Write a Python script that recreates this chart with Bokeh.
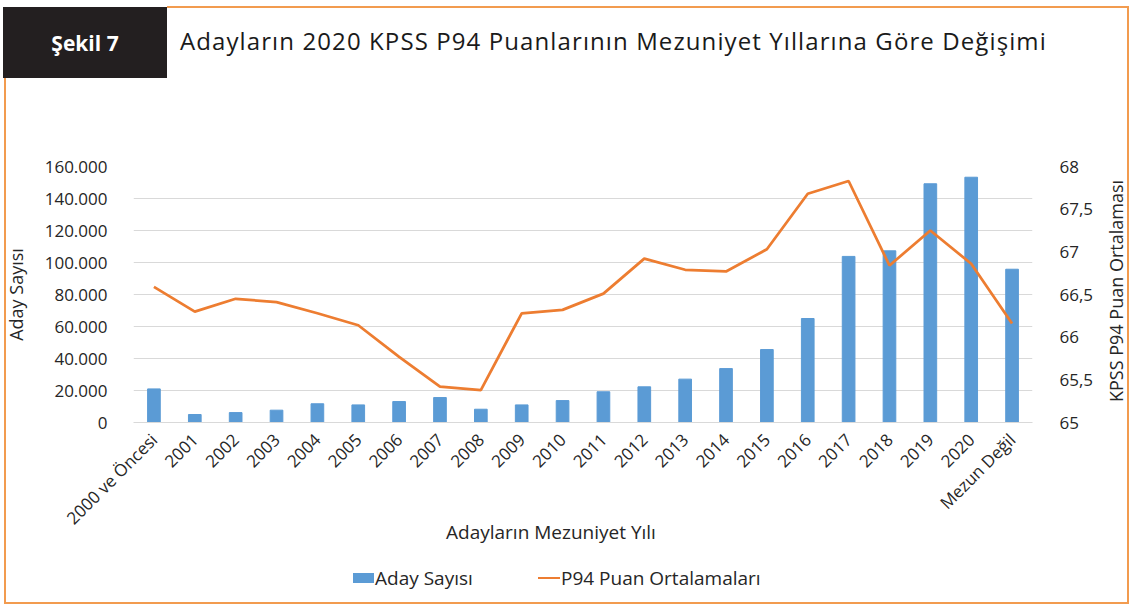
import math
from bokeh.plotting import figure
from bokeh.layouts import column
from bokeh.models import (FactorRange, Range1d, LinearAxis, FixedTicker, Div,
                          ColumnDataSource)
from bokeh.embed import file_html
from bokeh.resources import INLINE

# ---------------- data ----------------
categories = ["2000 ve Öncesi", "2001", "2002", "2003", "2004", "2005", "2006",
              "2007", "2008", "2009", "2010", "2011", "2012", "2013", "2014",
              "2015", "2016", "2017", "2018", "2019", "2020", "Mezun Değil"]
aday_sayisi = [21000, 5000, 6200, 7700, 11700, 11000, 13100, 15600, 8300, 11000,
               13700, 19200, 22300, 27100, 33700, 45600, 65000, 103800, 107300,
               149200, 153300, 95800]
p94_ortalama = [66.59, 66.30, 66.45, 66.41, 66.28, 66.14, 65.77, 65.42, 65.38,
                66.28, 66.32, 66.51, 66.92, 66.79, 66.77, 67.03, 67.68, 67.83,
                66.84, 67.25, 66.86, 66.16]
left_ticks = [0, 20000, 40000, 60000, 80000, 100000, 120000, 140000, 160000]
left_tick_labels = ["0", "20.000", "40.000", "60.000", "80.000", "100.000",
                    "120.000", "140.000", "160.000"]
right_ticks = [65, 65.5, 66, 66.5, 67, 67.5, 68]
right_tick_labels = ["65", "65,5", "66", "66,5", "67", "67,5", "68"]

title_box_text = "Şekil 7"
title_text = "Adayların 2020 KPSS P94 Puanlarının Mezuniyet Yıllarına Göre Değişimi"
x_title = "Adayların Mezuniyet Yılı"
left_title = "Aday Sayısı"
right_title = "KPSS P94 Puan Ortalaması"
legend_labels = ["Aday Sayısı", "P94 Puan Ortalamaları"]

# ---------------- style ----------------
FONT = "Open Sans"
TXT = "#262626"
BLUE = "#5B9BD5"
ORANGE = "#ED7D31"
BORDER = "#F29B4F"
GRID = "#D9D9D9"
W = 1114
HEAD_H = 80
FIG_H = 462
FOOT_H = 590 - HEAD_H - FIG_H

ab = "position:absolute;"
head_html = f"""
<div style="position:relative;width:{W}px;height:{HEAD_H}px;font-family:'Open Sans',sans-serif;">
  <div style="{ab}left:162px;top:1px;width:961px;height:1.5px;background:{BORDER};z-index:4;"></div>
  <div style="{ab}left:-1px;top:73px;width:1.5px;height:524px;background:{BORDER};z-index:4;"></div>
  <div style="{ab}left:1122px;top:1px;width:1.5px;height:597px;background:{BORDER};z-index:4;"></div>
  <div style="{ab}left:-1px;top:597px;width:1124.5px;height:1.5px;background:{BORDER};z-index:4;"></div>
  <div style="{ab}left:-2px;top:2px;width:164px;height:71px;background:#231F20;color:#FFFFFF;font-weight:bold;font-size:21px;display:flex;align-items:center;justify-content:center;z-index:5;">{title_box_text}</div>
  <div style="{ab}left:175px;top:21px;font-size:24px;letter-spacing:1.1px;line-height:30px;color:#1A1A1A;white-space:nowrap;">{title_text}</div>
  <div style="{ab}left:991px;top:273px;width:240px;height:26px;line-height:26px;font-size:18px;color:{TXT};text-align:center;white-space:nowrap;transform:rotate(-90deg);z-index:6;">{right_title}</div>
</div>
"""
head = Div(text=head_html, width=W, height=HEAD_H)

foot_html = f"""
<div style="position:relative;width:{W}px;height:{FOOT_H}px;font-family:'Open Sans',sans-serif;font-size:19px;color:{TXT};">
  <div style="{ab}left:441px;top:-38px;line-height:26px;white-space:nowrap;z-index:5;">{x_title}</div>
  <div style="{ab}left:348px;top:16px;width:21px;height:10px;background:{BLUE};"></div>
  <div style="{ab}left:370px;top:8px;line-height:26px;white-space:nowrap;">{legend_labels[0]}</div>
  <div style="{ab}left:533px;top:19.5px;width:22px;height:2.75px;background:{ORANGE};"></div>
  <div style="{ab}left:556px;top:8px;line-height:26px;white-space:nowrap;">{legend_labels[1]}</div>
</div>
"""
foot = Div(text=foot_html, width=W, height=FOOT_H)

src = ColumnDataSource(dict(cat=categories, aday=aday_sayisi, p94=p94_ortalama))

p = figure(width=W, height=FIG_H,
           x_range=FactorRange(factors=categories, range_padding=0),
           y_range=Range1d(left_ticks[0], left_ticks[-1]),
           output_backend="svg", toolbar_location=None,
           min_border_left=123, min_border_right=82,
           min_border_top=76, min_border_bottom=FIG_H - 76 - 256,
           background_fill_color="white", border_fill_color="white",
           outline_line_color=None)
p.extra_y_ranges = {"p94": Range1d(right_ticks[0], right_ticks[-1])}

bars = p.vbar(x="cat", top="aday", width=0.31, source=src,
              fill_color=BLUE, line_color=BLUE)
line = p.line(x="cat", y="p94", source=src, y_range_name="p94",
              line_color=ORANGE, line_width=2.75)

# left axis
ya = p.yaxis[0]
ya.ticker = FixedTicker(ticks=left_ticks)
ya.major_label_overrides = {t: l for t, l in zip(left_ticks, left_tick_labels)}
ya.axis_line_color = None
ya.major_tick_line_color = None
ya.minor_tick_line_color = None
ya.major_label_standoff = 20
ya.major_label_text_font = FONT
ya.major_label_text_font_size = "17px"
ya.major_label_text_color = TXT
ya.axis_label = left_title
ya.axis_label_text_font = FONT
ya.axis_label_text_font_size = "18px"
ya.axis_label_text_font_style = "normal"
ya.axis_label_text_color = TXT
ya.axis_label_standoff = 14

# right axis
ra = LinearAxis(y_range_name="p94", ticker=FixedTicker(ticks=right_ticks))
ra.major_label_overrides = {t: l for t, l in zip(right_ticks, right_tick_labels)}
ra.axis_line_color = None
ra.major_tick_line_color = None
ra.minor_tick_line_color = None
ra.major_label_standoff = 21
ra.major_label_text_font = FONT
ra.major_label_text_font_size = "17px"
ra.major_label_text_color = TXT
p.add_layout(ra, "right")

# x axis
xa = p.xaxis[0]
xa.axis_line_color = GRID
xa.axis_line_width = 1
xa.major_tick_line_color = None
xa.minor_tick_line_color = None
xa.major_label_orientation = math.pi / 4
xa.major_label_standoff = 8
xa.major_label_text_font = FONT
xa.major_label_text_font_size = "17px"
xa.major_label_text_color = TXT

p.xgrid.visible = False
p.ygrid.ticker = FixedTicker(ticks=left_ticks)
p.ygrid.grid_line_color = GRID
p.ygrid.grid_line_width = 1

page = column(head, p, foot, spacing=0)

open("out.html", "w").write(file_html(page, INLINE))
